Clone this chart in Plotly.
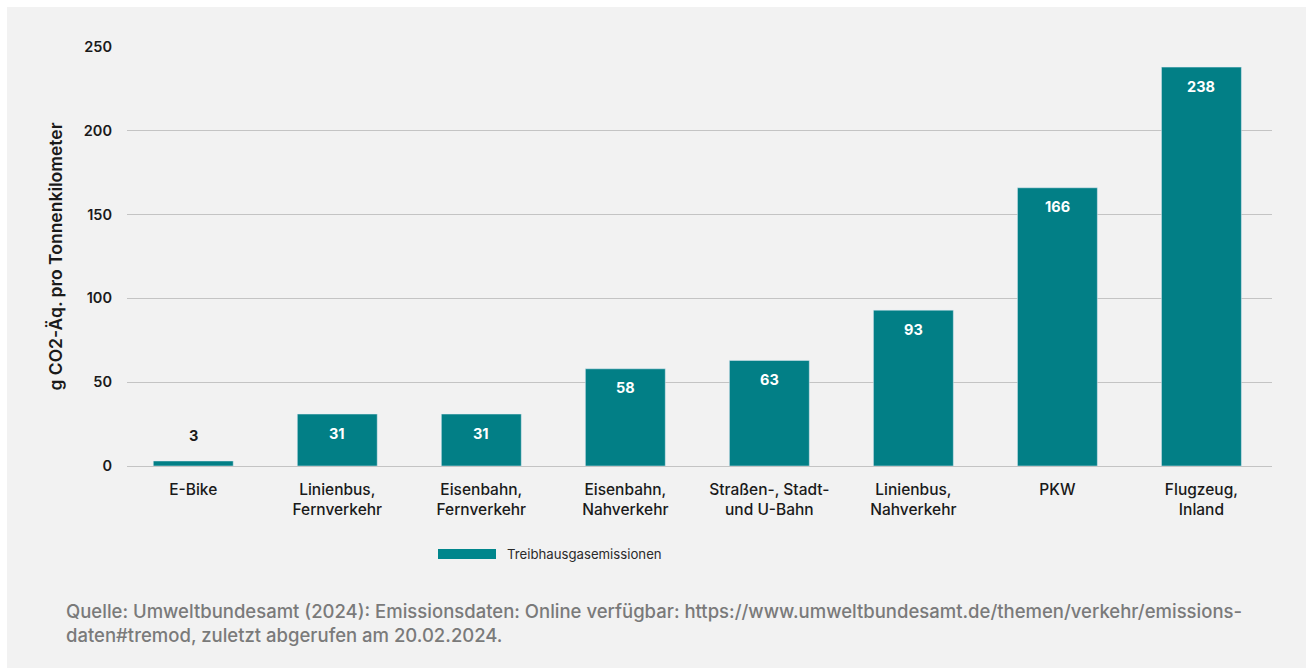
import plotly.graph_objects as go

categories = ["E-Bike", "Linienbus,<br>Fernverkehr", "Eisenbahn,<br>Fernverkehr", "Eisenbahn,<br>Nahverkehr",
              "Straßen-, Stadt-<br>und U-Bahn", "Linienbus,<br>Nahverkehr", "PKW", "Flugzeug,<br>Inland"]
values = [3, 31, 31, 58, 63, 93, 166, 238]
value_labels = ["3", "31", "31", "58", "63", "93", "166", "238"]
series_name = "Treibhausgasemissionen"
y_ticks = [0, 50, 100, 150, 200, 250]

TEAL = "#027f86"
FONT = "Inter"
W, H = 1306, 668
L, R, T, B = 127, 34, 47, 202
pw, ph = W - L - R, H - T - B

def px_x(px):
    return (px - L) / pw

def px_y(py):
    return (H - B - py) / ph

fig = go.Figure()
fig.add_trace(go.Bar(x=list(range(len(categories))), y=values, marker_color=TEAL, width=0.555,
                     name=series_name, showlegend=False, hoverinfo="y"))

annotations = []
for i, (v, lab) in enumerate(zip(values, value_labels)):
    inside = v > 20
    annotations.append(dict(x=i, y=v, xref="x", yref="y", text=f"<b>{lab}</b>", showarrow=False,
                            yshift=-19 if inside else 25,
                            font=dict(family=FONT, size=14.5, color="white" if inside else "#1a1a1a")))

# legend (text + swatch)
annotations.append(dict(x=px_x(505), y=px_y(554), xref="paper", yref="paper", xanchor="left", yanchor="middle",
                        text=series_name, showarrow=False, font=dict(family=FONT, size=13.2, color="#2a2a2a")))
# source
annotations.append(dict(x=px_x(64), y=px_y(598), xref="paper", yref="paper", xanchor="left", yanchor="top",
                        align="left", showarrow=False,
                        text="Quelle: Umweltbundesamt (2024): Emissionsdaten: Online verfügbar: https://www.umweltbundesamt.de/themen/verkehr/emissions-<br>daten#tremod, zuletzt abgerufen am 20.02.2024.",
                        font=dict(family=FONT, size=18.5, color="#7a7a7a", weight=500)))

shapes = [
    dict(type="rect", xref="paper", yref="paper", x0=px_x(7), x1=px_x(1306), y0=px_y(668), y1=px_y(7),
         fillcolor="#f2f2f2", line_width=0, layer="below"),
    dict(type="rect", xref="paper", yref="paper", x0=px_x(438), x1=px_x(496), y0=px_y(559), y1=px_y(549),
         fillcolor="#00868c", line_width=0),
]

fig.update_layout(
    width=W, height=H, margin=dict(l=L, r=R, t=T, b=B, pad=0),
    paper_bgcolor="white", plot_bgcolor="rgba(0,0,0,0)",
    annotations=annotations, shapes=shapes, showlegend=False,
    font=dict(family=FONT, color="#1a1a1a"),
)
fig.update_xaxes(range=[-0.46, 7.49], tickmode="array", tickvals=list(range(len(categories))),
                 ticktext=categories, showgrid=False, zeroline=False, showline=False, ticks="",
                 ticklabelstandoff=12,
                 tickfont=dict(family=FONT, size=15.5, color="#1a1a1a", weight=500))
fig.update_yaxes(range=[0, 250], tickvals=y_ticks, showgrid=True, gridcolor="#c4c4c4", gridwidth=1,
                 zeroline=True, zerolinecolor="#c4c4c4", zerolinewidth=1, showline=False, ticks="",
                 ticklabelstandoff=14,
                 tickfont=dict(family=FONT, size=14.5, color="#1a1a1a", weight=600),
                 title=dict(text="g CO2-Äq. pro Tonnenkilometer", standoff=16,
                            font=dict(family=FONT, size=17.5, color="#1a1a1a", weight=600)))

fig.write_html("out.html")
